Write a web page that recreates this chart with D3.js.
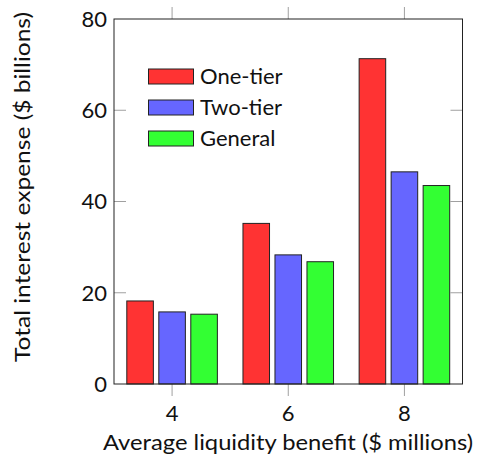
<!DOCTYPE html>
<html><head><meta charset="utf-8">
<script src="https://cdn.jsdelivr.net/npm/d3@7"></script>
<style>body{margin:0;background:#fff}svg{display:block}text{font-family:Lato,"DejaVu Sans",sans-serif;fill:#111}</style>
</head><body><svg id="c" width="477" height="456"></svg>
<script>
const categories = [4, 6, 8];
const seriesNames = ["One-tier", "Two-tier", "General"];
const oneTier = [18.2, 35.2, 71.3];
const twoTier = [15.8, 28.3, 46.5];
const general = [15.3, 26.8, 43.5];
const yTicks = [0, 20, 40, 60, 80];
const xTicks = [4, 6, 8];
const colors = ["#ff3333", "#6666ff", "#33ff33"];

const values = [oneTier, twoTier, general];
const svg = d3.select("#c");
const L = 114, R = 462.5, T = 19, B = 384;
const x = d3.scaleLinear().domain([3, 9]).range([L, R]);
const y = d3.scaleLinear().domain([0, 80]).range([B, T]);
const off = d3.scaleBand().domain(seriesNames).range([-48, 48]).paddingInner(0.17).paddingOuter(0.085);

// ticks
const tc = "#a0a0a0";
const g = svg.append("g");
yTicks.forEach(t => {
  if (t === 0 || t === 80) return;
  g.append("line").attr("x1", L).attr("x2", L + 12).attr("y1", y(t)).attr("y2", y(t)).attr("stroke", tc);
  g.append("line").attr("x1", R - 12).attr("x2", R).attr("y1", y(t)).attr("y2", y(t)).attr("stroke", tc);
});
xTicks.forEach(t => {
  g.append("line").attr("x1", x(t)).attr("x2", x(t)).attr("y1", B).attr("y2", B + 12).attr("stroke", tc);
  g.append("line").attr("x1", x(t)).attr("x2", x(t)).attr("y1", T).attr("y2", T - 12).attr("stroke", tc);
});

// bars
seriesNames.forEach((s, si) => {
  svg.append("g").selectAll("rect").data(categories).join("rect")
    .attr("x", (c) => x(c) + off(s))
    .attr("width", off.bandwidth())
    .attr("y", (c, i) => y(values[si][i]))
    .attr("height", (c, i) => y(0) - y(values[si][i]))
    .attr("fill", colors[si]).attr("stroke", "#222").attr("stroke-width", 1);
});

// frame
svg.append("rect").attr("x", L).attr("y", T).attr("width", R - L).attr("height", B - T)
  .attr("fill", "none").attr("stroke", "#222").attr("stroke-width", 1);

// tick labels
yTicks.forEach(t => {
  svg.append("text").attr("x", 107).attr("y", y(t)).attr("dy", "0.36em")
    .attr("text-anchor", "end").attr("font-size", 22).text(t);
});
xTicks.forEach(t => {
  svg.append("text").attr("x", x(t)).attr("y", 421)
    .attr("text-anchor", "middle").attr("font-size", 22).text(t);
});

// axis titles
svg.append("text").attr("x", 288).attr("y", 450).attr("text-anchor", "middle")
  .attr("font-size", 21).attr("textLength", 370).attr("lengthAdjust", "spacingAndGlyphs")
  .text("Average liquidity benefit ($ millions)");
svg.append("text").attr("transform", "translate(30,187) rotate(-90)").attr("text-anchor", "middle")
  .attr("font-size", 21).attr("textLength", 350).attr("lengthAdjust", "spacingAndGlyphs")
  .text("Total interest expense ($ billions)");

// legend
const leg = svg.append("g");
seriesNames.forEach((s, i) => {
  const yy = 69 + i * 31;
  leg.append("rect").attr("x", 148.5).attr("y", yy).attr("width", 45).attr("height", 15)
    .attr("fill", colors[i]).attr("stroke", "#222").attr("stroke-width", 1);
  leg.append("text").attr("x", 200).attr("y", yy + 7.5).attr("dy", "0.36em")
    .attr("font-size", 22).text(s);
});
</script></body></html>
